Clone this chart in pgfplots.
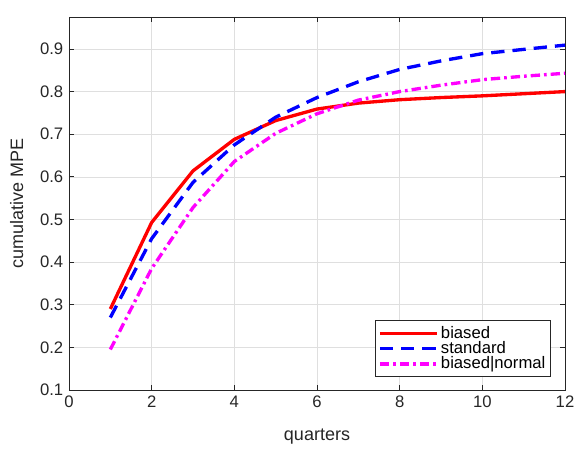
\documentclass[border=0pt]{standalone}
\usepackage{fontspec}
\setmainfont{Liberation Sans}
\usepackage{pgfplots}
\pgfplotsset{compat=1.18}
\begin{document}
\fontsize{12.5}{15}\selectfont
\begin{tikzpicture}
\definecolor{axgray}{RGB}{38,38,38}
\definecolor{gridgray}{RGB}{223,223,223}
\definecolor{mmag}{RGB}{255,0,255}
\definecolor{mblue}{RGB}{0,0,255}
\definecolor{mred}{RGB}{255,0,0}
\begin{axis}[
  at={(0,0)}, anchor=south west,
  scale only axis, width=372pt, height=279.75pt,
  xmin=0, xmax=12, ymin=0.1, ymax=0.975,
  xtick={0,2,4,6,8,10,12},
  ytick={0.1,0.2,0.3,0.4,0.5,0.6,0.7,0.8,0.9},
  yticklabel style={/pgf/number format/fixed, /pgf/number format/precision=1, /pgf/number format/fixed zerofill},
  /pgf/number format/assume math mode=true,
  tick align=inside, tick pos=both,
  major tick length=4pt,
  grid=major, grid style={gridgray, line width=0.5pt},
  axis line style={axgray, line width=0.6pt},
  tick style={axgray, line width=0.6pt},
  ticklabel style={font=\fontsize{12.5}{15}\selectfont, text=axgray},
  xlabel={quarters}, ylabel={cumulative MPE},
  label style={font=\fontsize{13.5}{16}\selectfont, text=axgray},
  xlabel style={at={(axis description cs:0.5,0)}, anchor=north, yshift=-25pt},
  ylabel style={at={(axis description cs:0,0.5)}, anchor=south, yshift=30pt},
  legend style={at={(rel axis cs:0.972,0.035)}, anchor=south east, draw=axgray, line width=0.6pt,
    font=\fontsize{12.5}{15}\selectfont, row sep=-3.5pt, inner sep=2pt,
    legend cell align=left},
  legend image code/.code={\draw[#1] (0cm,0cm) -- (1.5cm,0cm);},
]
\addplot[mred, line width=2.5pt] coordinates {
(1,0.29) (2,0.493) (3,0.614) (4,0.688) (5,0.732) (6,0.759) (7,0.773) (8,0.781) (9,0.786) (10,0.790) (11,0.795) (12,0.800)};
\addlegendentry{biased}
\addplot[mblue, line width=2.5pt, dash pattern=on 10pt off 6pt] coordinates {
(1,0.27) (2,0.455) (3,0.587) (4,0.675) (5,0.740) (6,0.786) (7,0.823) (8,0.852) (9,0.872) (10,0.889) (11,0.899) (12,0.909)};
\addlegendentry{standard}
\addplot[mmag, line width=2.5pt, dash pattern=on 7pt off 3pt on 2pt off 3pt] coordinates {
(1,0.195) (2,0.385) (3,0.528) (4,0.636) (5,0.702) (6,0.748) (7,0.780) (8,0.800) (9,0.815) (10,0.828) (11,0.836) (12,0.843)};
\addlegendentry{biased|normal}
\end{axis}
\pgfresetboundingbox
\path[use as bounding box] (-51.75pt,-46.5pt) rectangle (378.75pt,292.5pt);
\end{tikzpicture}
\end{document}
